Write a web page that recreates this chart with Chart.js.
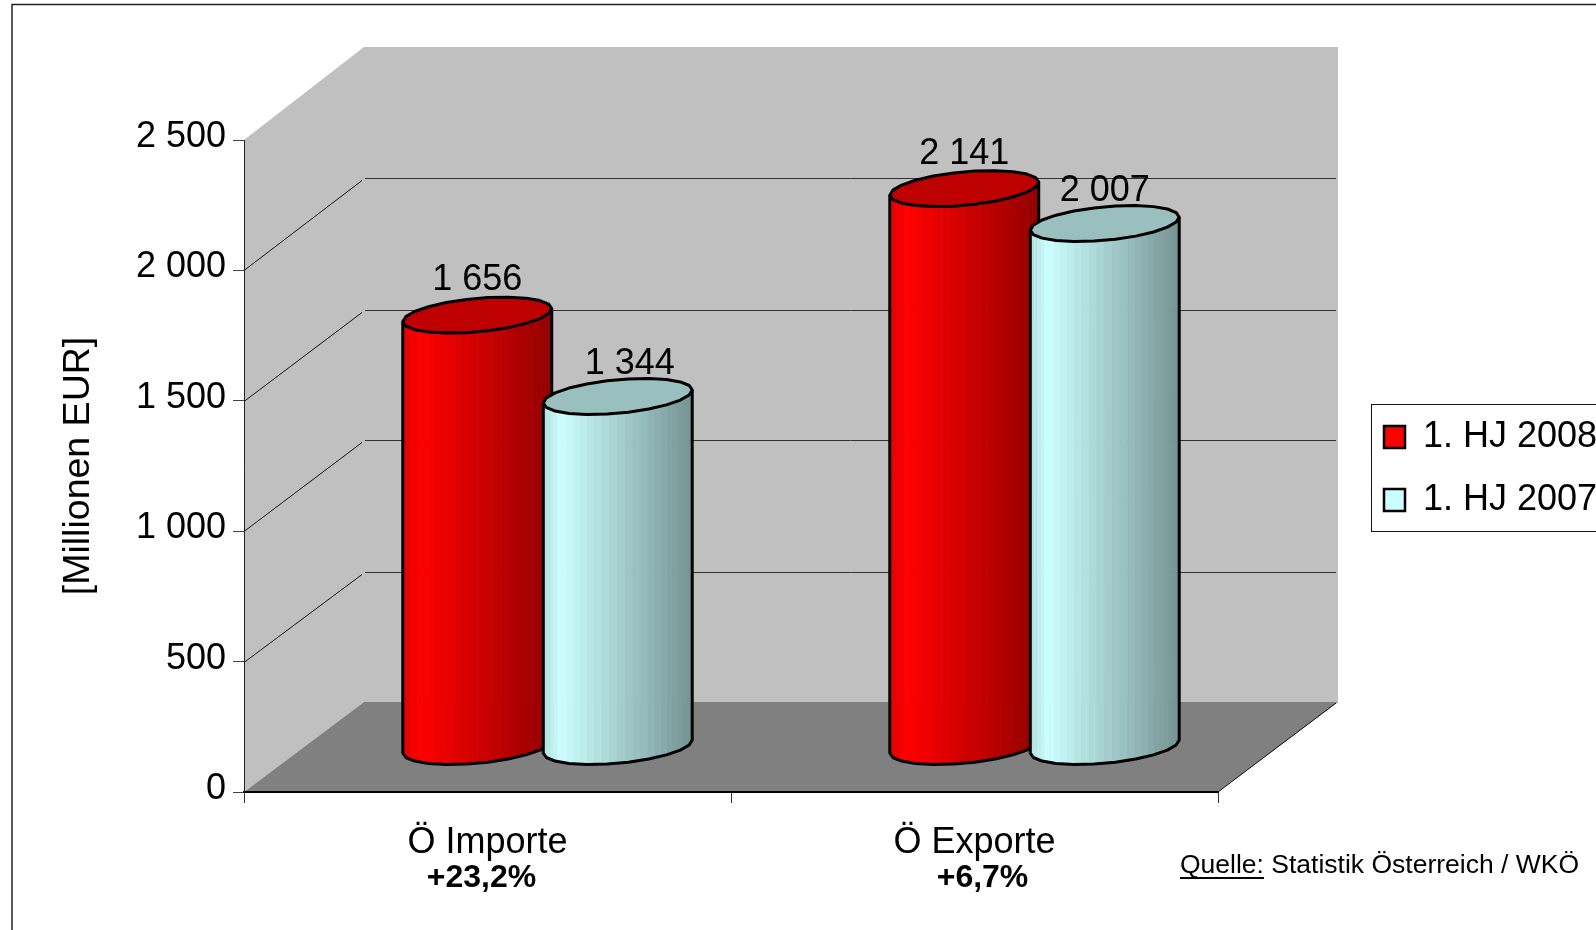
<!DOCTYPE html>
<html>
<head>
<meta charset="utf-8">
<title>Außenhandel</title>
<script src="https://cdn.jsdelivr.net/npm/chart.js@4"></script>
<style>
    html, body { margin: 0; padding: 0; background: #fff; overflow: hidden; }
    canvas { display: block; }
</style>
</head>
<body>
<canvas id="chart" width="1596" height="930"></canvas>
<script>
const categories = ['Ö Importe', 'Ö Exporte'];
const changeLabels = ['+23,2%', '+6,7%'];
const seriesNames = ['1. HJ 2008', '1. HJ 2007'];
const values2008 = [1656, 2141];
const values2007 = [1344, 2007];
const yTickLabels = ['0', '500', '1 000', '1 500', '2 000', '2 500'];

const mainFont = '"Liberation Sans", Arial, sans-serif';
const labelSize = 36;
const depthX = 120;
const depthY = 90;
const area = { left: 244, right: 1218, top: 140, bottom: 792 };

function formatValue(v) {
    return String(v).replace(/\B(?=(\d{3})+$)/g, ' ');
}

// front side of the cylinder is split in strips, lighter on the left
function shade(t) {
    if (t < 0.12) return 0.88 + t;
    return 1 - (t - 0.12) * 0.48;
}

function tint(rgb, k) {
    return 'rgb(' + rgb.map(c => Math.round(c * k)).join(',') + ')';
}

function drawCylinder(ctx, bar, rgb) {
    const cx = bar.x + depthX / 2;
    const topY = bar.y - depthY / 2;
    const baseY = bar.base - depthY / 2;
    const half = bar.width / 2;
    const rimX = 27;
    const rimY = 18;
    const r = Math.sqrt(half * half - rimX * rimX);
    const start = Math.atan2(rimX, r);
    const steps = 11;
    const strips = 30;

    const rim = (a, y) => [cx + r * Math.cos(a) + rimX * Math.sin(a), y - rimY * Math.sin(a)];

    // strips, from the left edge to the right edge
    for (let i = 0; i < strips; i++) {
        const a0 = start + Math.PI + Math.PI * i / strips;
        const a1 = start + Math.PI + Math.PI * (i + 1) / strips;
        const p0 = rim(a0, topY), p1 = rim(a1, topY), p2 = rim(a1, baseY), p3 = rim(a0, baseY);
        const t = ((p0[0] + p1[0]) / 2 - (cx - half)) / bar.width;
        const color = tint(rgb, shade(t));
        ctx.beginPath();
        ctx.moveTo(p0[0], p0[1]);
        ctx.lineTo(p1[0], p1[1]);
        ctx.lineTo(p2[0], p2[1]);
        ctx.lineTo(p3[0], p3[1]);
        ctx.closePath();
        ctx.fillStyle = color;
        ctx.strokeStyle = color;
        ctx.lineWidth = 0.7;
        ctx.fill();
        ctx.stroke();
    }

    ctx.strokeStyle = '#000';
    ctx.lineWidth = 3;
    ctx.lineJoin = 'round';

    // outline of the body
    ctx.beginPath();
    let p = rim(start + Math.PI, topY);
    ctx.moveTo(p[0], p[1]);
    for (let i = 0; i <= steps; i++) {
        p = rim(start + Math.PI + Math.PI * i / steps, baseY);
        ctx.lineTo(p[0], p[1]);
    }
    p = rim(start, topY);
    ctx.lineTo(p[0], p[1]);
    ctx.stroke();

    // top cap
    ctx.beginPath();
    for (let i = 0; i < steps * 2; i++) {
        p = rim(start + Math.PI * i / steps, topY);
        if (i === 0) ctx.moveTo(p[0], p[1]);
        else ctx.lineTo(p[0], p[1]);
    }
    ctx.closePath();
    ctx.fillStyle = tint(rgb, 0.75);
    ctx.fill();
    ctx.stroke();
}

const wallsPlugin = {
    id: 'walls',
    beforeDraw(chart) {
        const ctx = chart.ctx;
        const y = chart.scales.y;
        const a = chart.chartArea;
        ctx.save();
        ctx.fillStyle = '#fff';
        ctx.fillRect(0, 0, chart.width, chart.height);

        // outer frame
        ctx.strokeStyle = '#222';
        ctx.lineWidth = 1.5;
        ctx.beginPath();
        ctx.moveTo(12, chart.height);
        ctx.lineTo(12, 4.5);
        ctx.lineTo(chart.width, 4.5);
        ctx.stroke();

        const backLeft = a.left + depthX;
        const backRight = a.right + depthX;
        const backBottom = a.bottom - depthY;
        const backTop = a.top - depthY - 3;
        const backScale = (backBottom - backTop) / (a.bottom - a.top);

        ctx.fillStyle = '#c0c0c0';
        ctx.fillRect(backLeft, backTop, backRight - backLeft, backBottom - backTop);
        ctx.beginPath();
        ctx.moveTo(a.left, a.top);
        ctx.lineTo(backLeft, backTop);
        ctx.lineTo(backLeft, backBottom);
        ctx.lineTo(a.left, a.bottom);
        ctx.closePath();
        ctx.fill();

        ctx.fillStyle = '#808080';
        ctx.beginPath();
        ctx.moveTo(a.left, a.bottom);
        ctx.lineTo(a.right, a.bottom);
        ctx.lineTo(backRight, backBottom);
        ctx.lineTo(backLeft, backBottom);
        ctx.closePath();
        ctx.fill();

        ctx.strokeStyle = '#111';
        ctx.lineWidth = 1;
        ctx.beginPath();
        ctx.moveTo(a.right, a.bottom);
        ctx.lineTo(backRight - 2, backBottom + 1);
        ctx.stroke();

        // grid on left and back wall
        y.ticks.forEach(t => {
            if (t.value === 0 || t.value === y.max) return;
            const py = Math.round(y.getPixelForValue(t.value)) + 0.5;
            const backY = Math.round(backBottom - (a.bottom - py) * backScale) + 0.5;
            ctx.strokeStyle = '#111';
            ctx.beginPath();
            ctx.moveTo(a.left, py);
            ctx.lineTo(backLeft - 2, backY + 2);
            ctx.stroke();
            ctx.strokeStyle = '#333';
            ctx.beginPath();
            ctx.moveTo(backLeft + 1, backY);
            ctx.lineTo(backRight - 2, backY);
            ctx.stroke();
        });
        ctx.restore();
    },
    beforeDatasetsDraw(chart) {
        const ctx = chart.ctx;
        const colors = [[255, 0, 0], [204, 255, 255]];
        ctx.save();
        categories.forEach((c, i) => {
            chart.data.datasets.forEach((ds, d) => {
                drawCylinder(ctx, chart.getDatasetMeta(d).data[i], colors[d]);
            });
        });

        // value labels above the caps
        ctx.fillStyle = '#000';
        ctx.font = labelSize + 'px ' + mainFont;
        ctx.textAlign = 'center';
        ctx.textBaseline = 'middle';
        categories.forEach((c, i) => {
            chart.data.datasets.forEach((ds, d) => {
                const bar = chart.getDatasetMeta(d).data[i];
                const nudge = d === 1 && i === 0 ? 12 : 0;
                const lift = d === 1 ? 32 : 35;
                ctx.fillText(formatValue(ds.data[i]), bar.x + depthX / 2 + nudge, bar.y - depthY / 2 - lift);
            });
        });
        ctx.restore();
        return false;
    },
    afterLayout(chart) {
        // legend sits over the free room right of the walls
        const legend = chart.legend;
        const w = legend.right - legend.left;
        const h = legend.bottom - legend.top;
        legend.left = 1357;
        legend.right = 1357 + w;
        legend.top = 392;
        legend.bottom = 392 + h;
    },
    afterDraw(chart) {
        const ctx = chart.ctx;
        const x = chart.scales.x;
        ctx.save();
        ctx.fillStyle = '#000';

        ctx.strokeStyle = '#111';
        ctx.lineWidth = 1;
        ctx.strokeRect(1371.5, 404.5, 260, 127);

        // percent change under each category
        ctx.font = 'bold 32px ' + mainFont;
        ctx.textAlign = 'center';
        ctx.textBaseline = 'middle';
        changeLabels.forEach((label, i) => {
            ctx.fillText(label, x.getPixelForTick(i) + (i === 0 ? -6 : 8), 878);
        });

        // source note
        ctx.font = '26.5px ' + mainFont;
        ctx.textAlign = 'left';
        ctx.fillText('Quelle:', 1180, 866);
        const qw = ctx.measureText('Quelle:').width;
        ctx.fillText(' Statistik Österreich / WKÖ', 1180 + qw, 866);
        ctx.fillRect(1180, 877, qw, 2);
        ctx.restore();
    }
};

const chart = new Chart(document.getElementById('chart'), {
    type: 'bar',
    data: {
        labels: categories,
        datasets: [
            { label: seriesNames[0], data: values2008, backgroundColor: '#ff0000', borderColor: '#000', borderWidth: 2.5 },
            { label: seriesNames[1], data: values2007, backgroundColor: '#ccffff', borderColor: '#000', borderWidth: 2.5 }
        ]
    },
    options: {
        responsive: false,
        animation: false,
        categoryPercentage: 0.577,
        barPercentage: 1.06,
        layout: { padding: { left: 50, right: 100, top: area.top, bottom: 0 } },
        plugins: {
            tooltip: { enabled: false },
            legend: {
                position: 'right',
                align: 'start',
                labels: {
                    boxWidth: 21,
                    boxHeight: 22,
                    padding: 27,
                    color: '#000',
                    font: { family: mainFont, size: labelSize }
                }
            }
        },
        scales: {
            x: {
                afterFit(s) { s.height = 930 - area.bottom; },
                grid: { drawOnChartArea: false, tickLength: 11, color: '#333', offset: true },
                border: { color: '#000', width: 2 },
                ticks: { color: '#000', padding: 18, maxRotation: 0, font: { family: mainFont, size: labelSize } }
            },
            y: {
                min: 0,
                max: 2500,
                afterFit(s) { s.width = area.left - 50; },
                title: {
                    display: true,
                    text: '[Millionen EUR]',
                    color: '#000',
                    padding: { top: 6, bottom: 0 },
                    font: { family: mainFont, size: 37.5, weight: 'normal' }
                },
                grid: { drawOnChartArea: false, tickLength: 11, color: '#444' },
                border: { color: '#222', width: 1 },
                ticks: {
                    stepSize: 500,
                    color: '#000',
                    padding: 7,
                    labelOffset: -3,
                    font: { family: mainFont, size: labelSize },
                    callback: (v, i) => yTickLabels[i]
                }
            }
        }
    },
    plugins: [wallsPlugin]
});

// nudge the right padding until the plot area lands where the walls belong
const pad = chart.options.layout.padding;
for (let i = 0; i < 4; i++) {
    pad.right += chart.chartArea.right - area.right;
    chart.update('none');
}
</script>
</body>
</html>
